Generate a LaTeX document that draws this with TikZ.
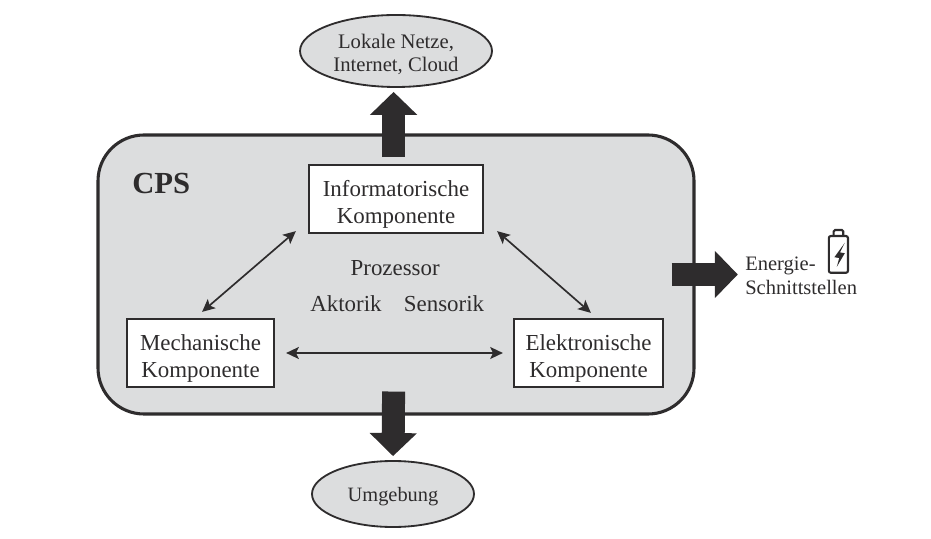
\documentclass[tikz,border=0pt]{standalone}
\usepackage{fontspec}
\setmainfont{Liberation Serif}
\usetikzlibrary{arrows.meta,shapes.geometric}
\definecolor{boxgray}{HTML}{DCDDDE}
\definecolor{inkdark}{HTML}{2E2C2D}
\tikzset{
  comp/.style={draw=inkdark, line width=1.6pt, fill=white, minimum height=1.7cm, inner sep=0pt, align=center, font=\fontsize{16.3}{19.4}\selectfont, text=inkdark, text height=39.4pt, text depth=4pt},
  cloud/.style={ellipse, draw=inkdark, line width=1.3pt, fill=boxgray, inner sep=0pt, align=center, text=inkdark},
  lbl/.style={font=\fontsize{16.3}{20}\selectfont, text=inkdark},
  link/.style={{Stealth[length=9pt,width=8.5pt,inset=2pt]}-{Stealth[length=9pt,width=8.5pt,inset=2pt]}, line width=1.2pt, inkdark},
  blockarrow/.style={line width=0.575cm, inkdark, -{Triangle[width=1.15cm,length=0.575cm]}}
}
\begin{document}
\begin{tikzpicture}
  \useasboundingbox (0,0) rectangle (23.275,13.45);
  % Main block
  \node[draw=inkdark, line width=2.2pt, fill=boxgray, rounded corners=1.15cm, minimum width=14.9cm, minimum height=6.975cm] (cps) at (9.9,6.5875) {};
  \node[font=\fontsize{21.8}{24}\selectfont\bfseries, text=inkdark] (cpslabel) at (4.03,8.85) {CPS};

  % Components
  \node[comp, minimum width=4.35cm] (inf) at (9.9,8.475) {Informatorische\\Komponente};
  \node[comp, minimum width=3.675cm] (mech) at (5.0125,4.625) {Mechanische\\Komponente};
  \node[comp, minimum width=3.725cm] (elek) at (14.7125,4.625) {Elektronische\\Komponente};

  \node[lbl] (proz) at (9.88,6.75) {Prozessor};
  \node[lbl] (akt) at (8.65,5.85) {Aktorik};
  \node[lbl] (sens) at (11.1,5.85) {Sensorik};

  % Outer parts
  \node[cloud, minimum width=4.8cm, minimum height=1.8cm, font=\fontsize{14.7}{17}\selectfont, text height=29.8pt, text depth=0pt] (netz) at (9.9,12.175) {Lokale Netze,\\Internet, Cloud};
  \node[cloud, minimum width=4.05cm, minimum height=1.65cm, font=\fontsize{14.5}{16}\selectfont, execute at begin node=\rule{0pt}{14.5pt}] (umg) at (9.825,1.1) {Umgebung};
  \node[anchor=west, inner sep=0pt, align=left, font=\fontsize{14.6}{17}\selectfont, text=inkdark] (energie) at (18.625,6.55) {Energie-\\Schnittstellen};

  % Links between components
  \draw[link] ([xshift=-0.3cm,yshift=0.075cm]inf.south west) -- ([xshift=0.04cm,yshift=0.15cm]mech.north);
  \draw[link] ([xshift=0.325cm,yshift=0.075cm]inf.south east) -- ([xshift=0.06cm,yshift=0.125cm]elek.north);
  \draw[link] ([xshift=0.275cm]mech.east) -- ([xshift=-0.25cm]elek.west);

  % Block arrows
  \draw[blockarrow, shorten <=0.17cm, shorten >=0.1cm] ([xshift=-0.06cm]inf.north) -- ([xshift=-0.06cm]netz.south);
  \draw[blockarrow, shorten >=0.1cm] ([xshift=-0.06cm,yshift=0.6cm]cps.south) -- (umg.north);
  \draw[blockarrow, shorten >=0.18cm] ([xshift=-0.6cm]cps.east) -- (energie.west |- cps.east);

  % Battery
  \draw[inkdark, line width=1.5pt, rounded corners=1.5pt] (20.72,6.63) rectangle (21.2,7.55);
  \draw[inkdark, line width=1.5pt, rounded corners=1pt] (20.84,7.55) -- (20.84,7.7) -- (21.08,7.7) -- (21.08,7.55);
  \fill[inkdark] (21.12,7.38) -- (20.86,7.02) -- (20.98,7.0) -- (20.92,6.78) -- (21.12,7.12) -- (21.0,7.14) -- cycle;
\end{tikzpicture}
\end{document}
